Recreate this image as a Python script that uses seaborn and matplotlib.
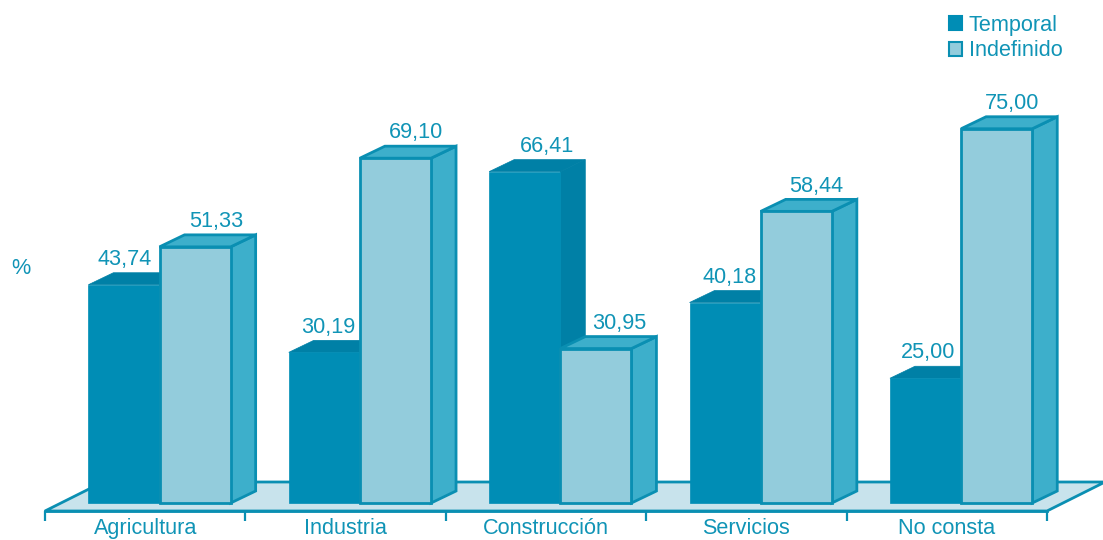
import pandas as pd
import seaborn as sns
import matplotlib.pyplot as plt
from matplotlib.patches import Patch, Polygon

sectores = ['Agricultura', 'Industria', 'Construcción', 'Servicios', 'No consta']
temporal = [43.74, 30.19, 66.41, 40.18, 25.00]
indefinido = [51.33, 69.10, 30.95, 58.44, 75.00]

# colores
C_TEMP = '#008db5'
C_TEMP_DARK = '#0080a6'
C_INDEF = '#93ccdc'
C_INDEF_SIDE = '#3dafcb'
C_EDGE = '#0a8fb2'
C_FLOOR = '#c8e3ec'
C_TEXT = '#1094b6'
FS = 15.6

sns.set_theme(style='white')
plt.rcParams['font.family'] = ['Liberation Sans', 'DejaVu Sans']

df = pd.DataFrame({'sector': sectores * 2,
                   'tipo': ['Temporal'] * 5 + ['Indefinido'] * 5,
                   'valor': temporal + indefinido})

W, H = 1103, 540
fig = plt.figure(figsize=(W / 100, H / 100), dpi=100)
ax = fig.add_axes([45 / W, (H - 511) / H, (1047 - 45) / W, 511 / H])

sns.barplot(data=df, x='sector', y='valor', hue='tipo', hue_order=['Temporal', 'Indefinido'],
            palette=[C_TEMP, C_INDEF], saturation=1, width=0.71, gap=0, errorbar=None,
            legend=False, ax=ax)

# escala: 200.4 px por categoria, 4.99 px por unidad
px_x = 200.4
px_y = 4.99
ax.set_xlim((45 - 159.5) / px_x, (1047 - 159.5) / px_x)
ax.set_ylim(-8 / px_y, 503 / px_y)
dx = 25 / px_x
dy = 12 / px_y

# suelo
fx0, fx1 = ax.get_xlim()
fy0 = ax.get_ylim()[0]
fdx = 58 / px_x
fdy = 29 / px_y
ax.add_patch(Polygon([(fx0, fy0), (fx1, fy0), (fx1 + fdx, fy0 + fdy), (fx0 + fdx, fy0 + fdy)],
                     closed=True, facecolor=C_FLOOR, edgecolor=C_EDGE, linewidth=2,
                     clip_on=False, zorder=1))


def caja(bar, c_top, c_side, c_edge, lw, z):
    x0, w, h = bar.get_x(), bar.get_width(), bar.get_height()
    x1 = x0 + w
    ax.add_patch(Polygon([(x1, 0), (x1 + dx, dy), (x1 + dx, h + dy), (x1, h)], closed=True,
                         facecolor=c_side, edgecolor=c_edge, linewidth=lw, clip_on=False, zorder=z))
    ax.add_patch(Polygon([(x0, h), (x1, h), (x1 + dx, h + dy), (x0 + dx, h + dy)], closed=True,
                         facecolor=c_top, edgecolor=c_edge, linewidth=lw, clip_on=False, zorder=z))
    bar.set_zorder(z + 0.1)
    bar.set_edgecolor(c_edge)
    bar.set_linewidth(lw)


for bar in ax.containers[0]:
    caja(bar, C_TEMP_DARK, C_TEMP_DARK, C_TEMP_DARK, 0.5, 3)
    bar.set_edgecolor(C_TEMP)
for bar in ax.containers[1]:
    caja(bar, C_INDEF_SIDE, C_INDEF_SIDE, C_EDGE, 2, 4)

# etiquetas de valores, desplazamiento en px respecto al centro de la barra
off_temp = [1, 4, 22, 4, 3]
off_indef = [21, 21, 23, 20, 15]
for cont, offs in zip(ax.containers, [off_temp, off_indef]):
    for bar, off in zip(cont, offs):
        h = bar.get_height()
        ax.annotate(f'{h:.2f}'.replace('.', ','), (bar.get_x() + bar.get_width() / 2, h + dy),
                    xytext=(off * 0.72, 2.0), textcoords='offset points', ha='center', va='bottom',
                    color=C_TEXT, fontsize=FS, zorder=6, annotation_clip=False)

# ejes
sns.despine(ax=ax, left=True, top=True, right=True)
ax.spines['bottom'].set_color(C_EDGE)
ax.spines['bottom'].set_linewidth(2)
ax.spines['bottom'].set_zorder(5)
ax.set_xlabel('')
ax.set_ylabel('')
ax.set_yticks([])
ax.patch.set_alpha(0)
bordes = [fx0 + (fx1 - fx0) * k / 5 for k in range(6)]
centros = [(a + b) / 2 for a, b in zip(bordes[:-1], bordes[1:])]
ax.set_xticks(bordes)
ax.set_xticklabels([])
ax.tick_params(axis='x', which='major', bottom=True, length=7.5, width=1.6, color=C_EDGE)
ax.set_xticks(centros, minor=True)
ax.set_xticklabels(sectores, minor=True, color=C_TEXT, fontsize=FS)
ax.tick_params(axis='x', which='minor', bottom=False, length=0, pad=5.2)

fig.text(21 / W, (H - 269) / H, '%', color=C_TEXT, fontsize=FS, ha='center', va='center')

handles = [Patch(facecolor=C_TEMP, edgecolor=C_TEMP, linewidth=1.5),
           Patch(facecolor=C_INDEF, edgecolor=C_EDGE, linewidth=1.5)]
fig.legend(handles, ['Temporal', 'Indefinido'], loc='upper left', bbox_to_anchor=(949 / W, (H - 15) / H),
           frameon=False, fontsize=FS, labelcolor=C_TEXT, handlelength=0.62, handleheight=0.62,
           handletextpad=0.3, labelspacing=0.2, borderaxespad=0, borderpad=0)

fig.savefig('out.png', dpi=100)
